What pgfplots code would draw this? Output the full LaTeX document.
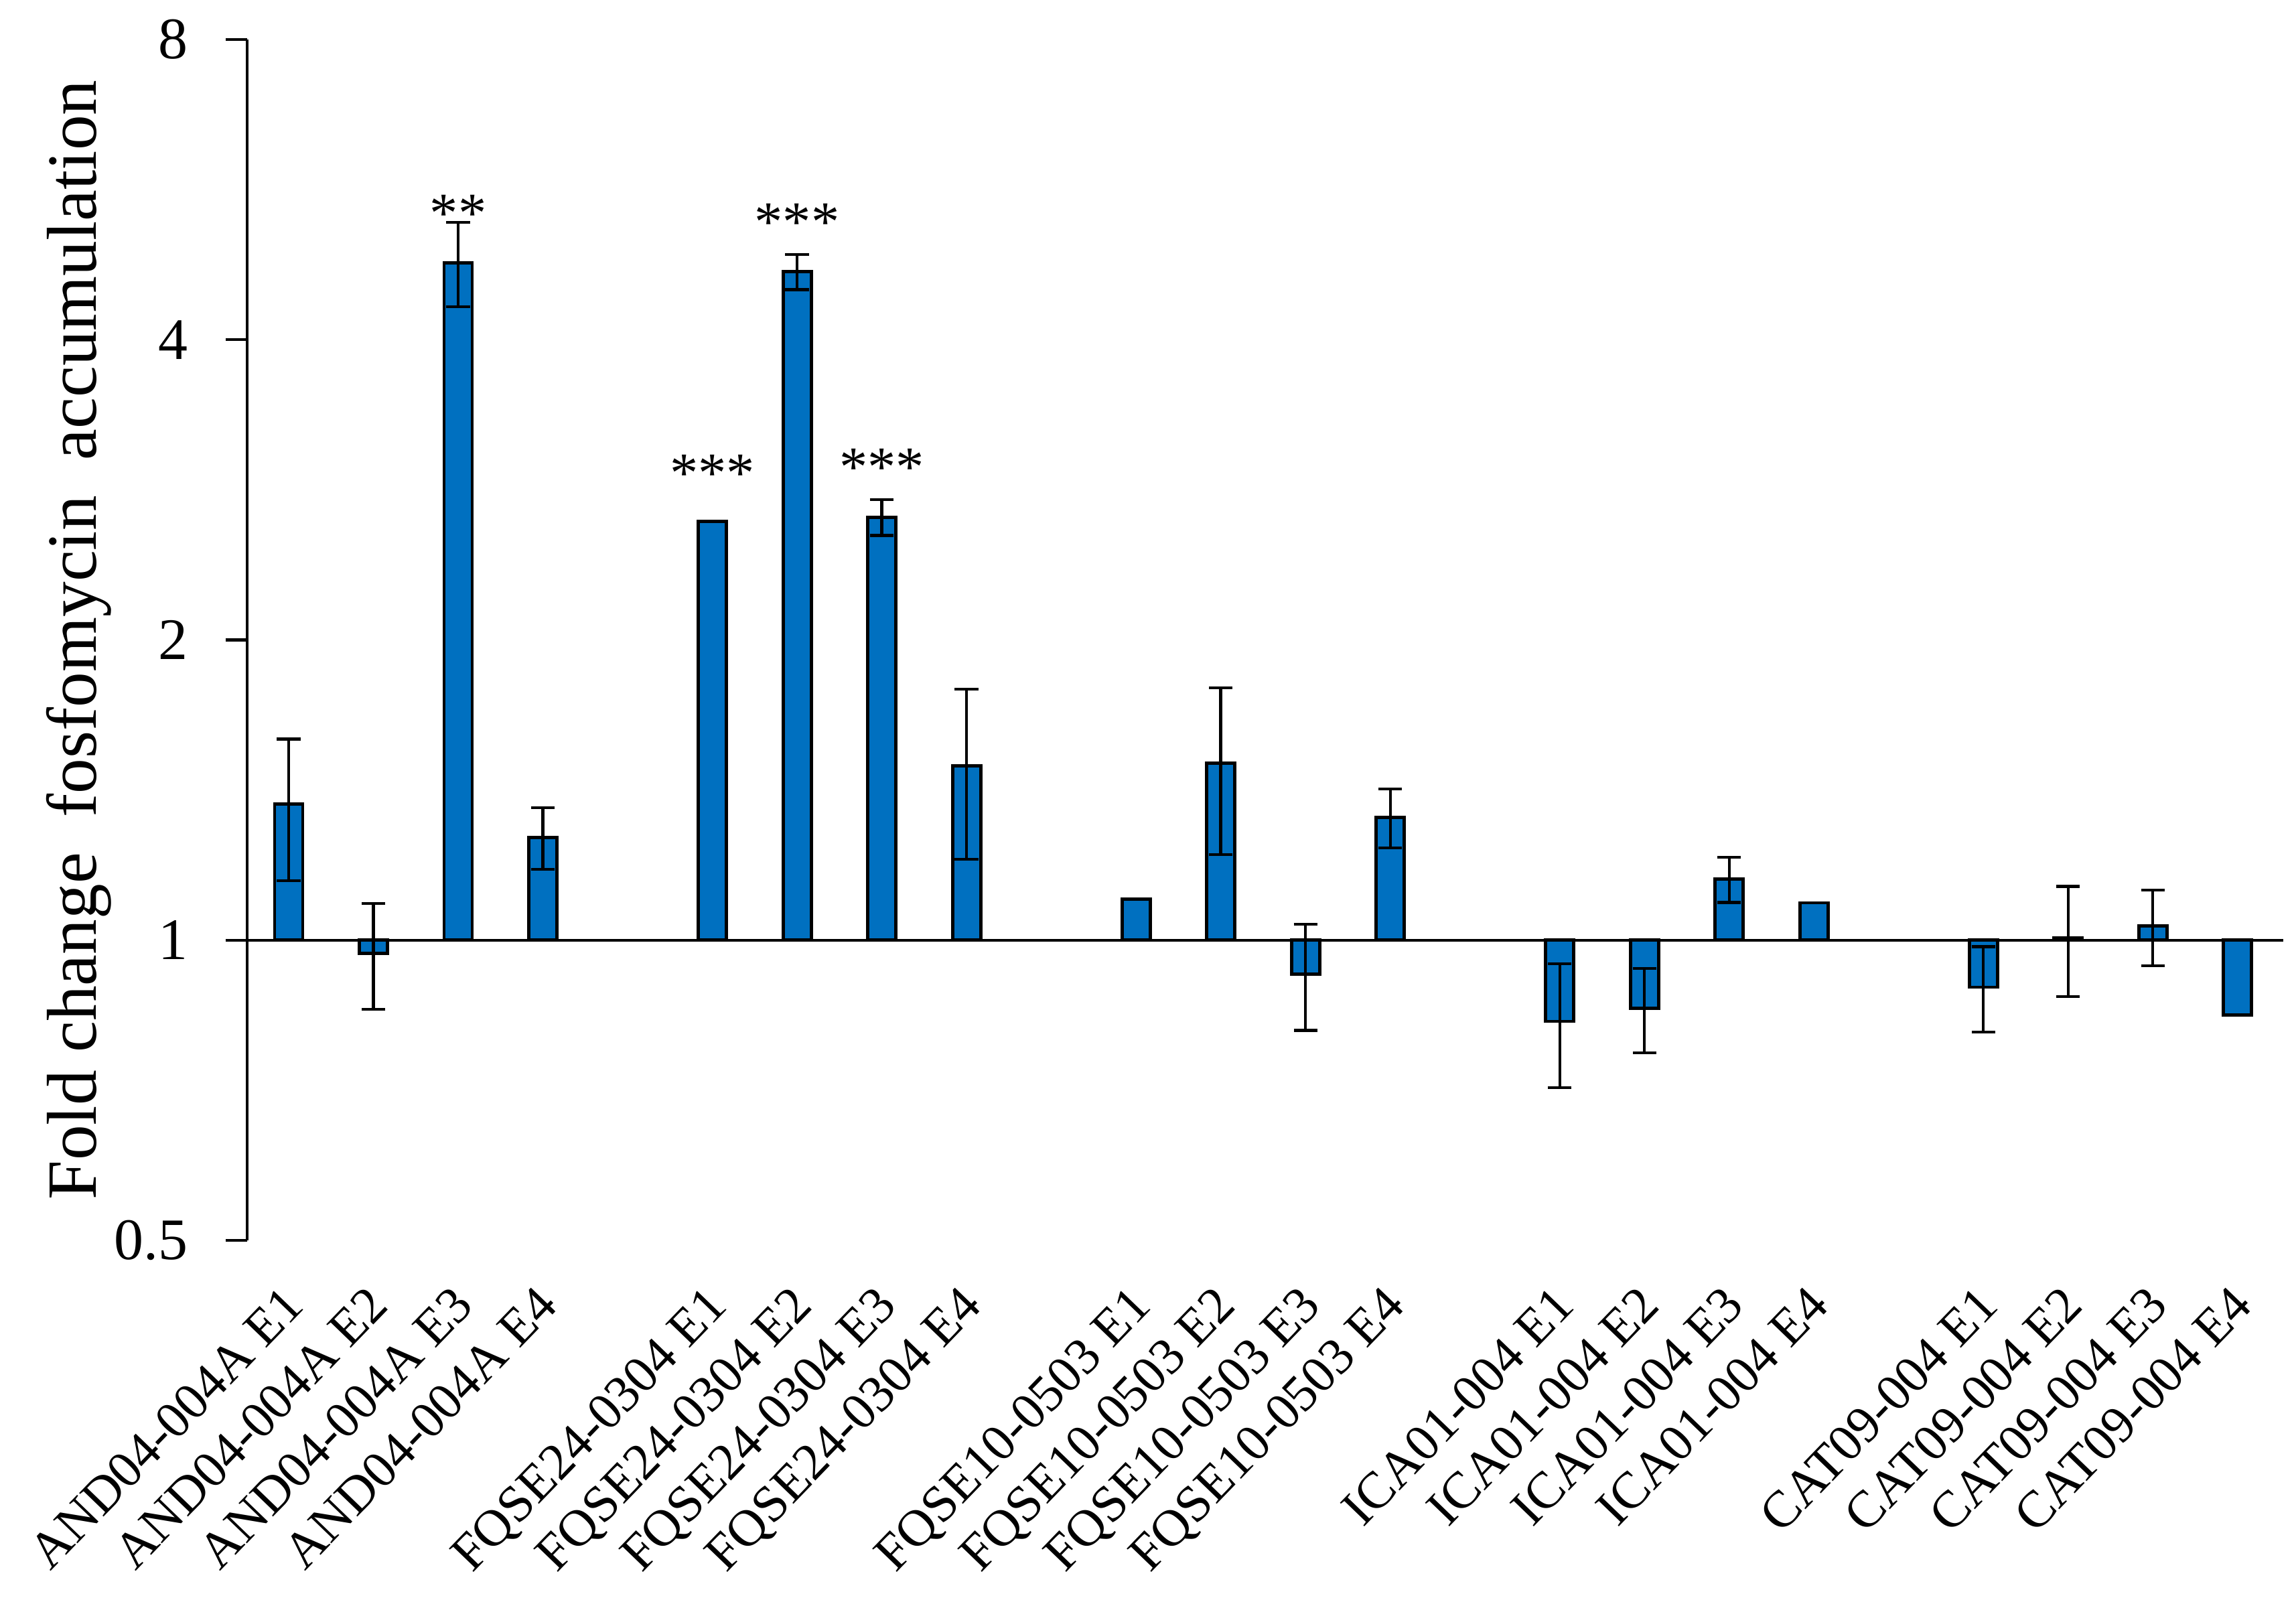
\documentclass[border=0pt]{standalone}
\usepackage{fontspec}
\setmainfont{Liberation Serif}
\usepackage{pgfplots}
\usepackage{pgfplotstable}
\pgfplotsset{compat=1.18}
\definecolor{barblue}{HTML}{0070C0}

% fold change and its error (linear), gap slots 4, 9, 14, 19 left empty
\pgfplotstableread{
x  y      err
0  1.369  0.222
1  0.970  0.118
2  4.78   0.465
3  1.267  0.09
5  2.63   0
6  4.68   0.19
7  2.656  0.11
8  1.495  0.29
10 1.099  0
11 1.504  0.286
12 0.925  0.113
13 1.327  0.09
15 0.829  0.118
16 0.854  0.083
17 1.151  0.06
18 1.090  0
20 0.897  0.088
21 1.005  0.127
22 1.033  0.09
23 0.841  0
}\foldchange

\begin{document}
\begin{tikzpicture}
\begin{axis}[
    at={(0,0)}, anchor=south west,
    scale only axis,
    width=15.2cm, height=8.965cm,
    % y is plotted as log2 of the fold change, bars start at fold 1
    ymin=-1, ymax=3,
    xmin=-0.49, xmax=23.54,
    ybar, bar width=0.21cm,
    axis y line*=left, axis x line*=bottom,
    axis line style={-, line width=0.6pt},
    x axis line style={draw=none},
    ytick={-1,0,1,2,3}, yticklabels={0.5,1,2,4,8},
    ytick pos=left,
    tick align=outside, major tick length=0.16cm,
    tick style={line width=0.6pt, black},
    yticklabel style={font=\fontsize{12.5}{14}\selectfont, inner sep=0pt, xshift=-0.275cm},
    extra y ticks={0}, extra y tick labels={},
    extra y tick style={grid=major, major grid style={black, line width=0.6pt}},
    xtick={0,1,2,3,5,6,7,8,10,11,12,13,15,16,17,18,20,21,22,23},
    xticklabels={AND04-004A E1, AND04-004A E2, AND04-004A E3, AND04-004A E4,
        FQSE24-0304 E1, FQSE24-0304 E2, FQSE24-0304 E3, FQSE24-0304 E4,
        FQSE10-0503 E1, FQSE10-0503 E2, FQSE10-0503 E3, FQSE10-0503 E4,
        ICA01-004 E1, ICA01-004 E2, ICA01-004 E3, ICA01-004 E4,
        CAT09-004 E1, CAT09-004 E2, CAT09-004 E3, CAT09-004 E4},
    x tick style={draw=none},
    xticklabel style={font=\fontsize{11}{13}\selectfont, inner sep=0pt,
        xshift=-0.06cm, yshift=-0.156cm, rotate=46, anchor=north east},
    ylabel={Fold change\ \ fosfomycin\ \ accumulation},
    ylabel style={font=\fontsize{15}{18}\selectfont, at={(axis description cs:0,0.5)},
        anchor=south, inner sep=0pt, yshift=1.005cm},
]
\addplot[fill=barblue, draw=black, line width=0.7pt,
    error bars/.cd, y dir=both, y explicit,
    error bar style={line width=0.6pt, black},
    error mark options={rotate=90, line width=0.6pt, black, mark size=2.5pt}]
    table[x=x, y expr={log2(\thisrow{y})},
        y error plus expr={log2(\thisrow{y}+\thisrow{err})-log2(\thisrow{y})},
        y error minus expr={log2(\thisrow{y})-log2(\thisrow{y}-\thisrow{err})}] {\foldchange};
\node[font=\fontsize{12}{14}\selectfont, anchor=base] at (axis cs:2,2.359) {**};
\node[font=\fontsize{12}{14}\selectfont, anchor=base] at (axis cs:5,1.493) {***};
\node[font=\fontsize{12}{14}\selectfont, anchor=base] at (axis cs:6,2.330) {***};
\node[font=\fontsize{12}{14}\selectfont, anchor=base] at (axis cs:7,1.513) {***};
\end{axis}
\pgfresetboundingbox
\path[use as bounding box] (-1.845,-2.67) rectangle (15.295,9.26);
\end{tikzpicture}
\end{document}
